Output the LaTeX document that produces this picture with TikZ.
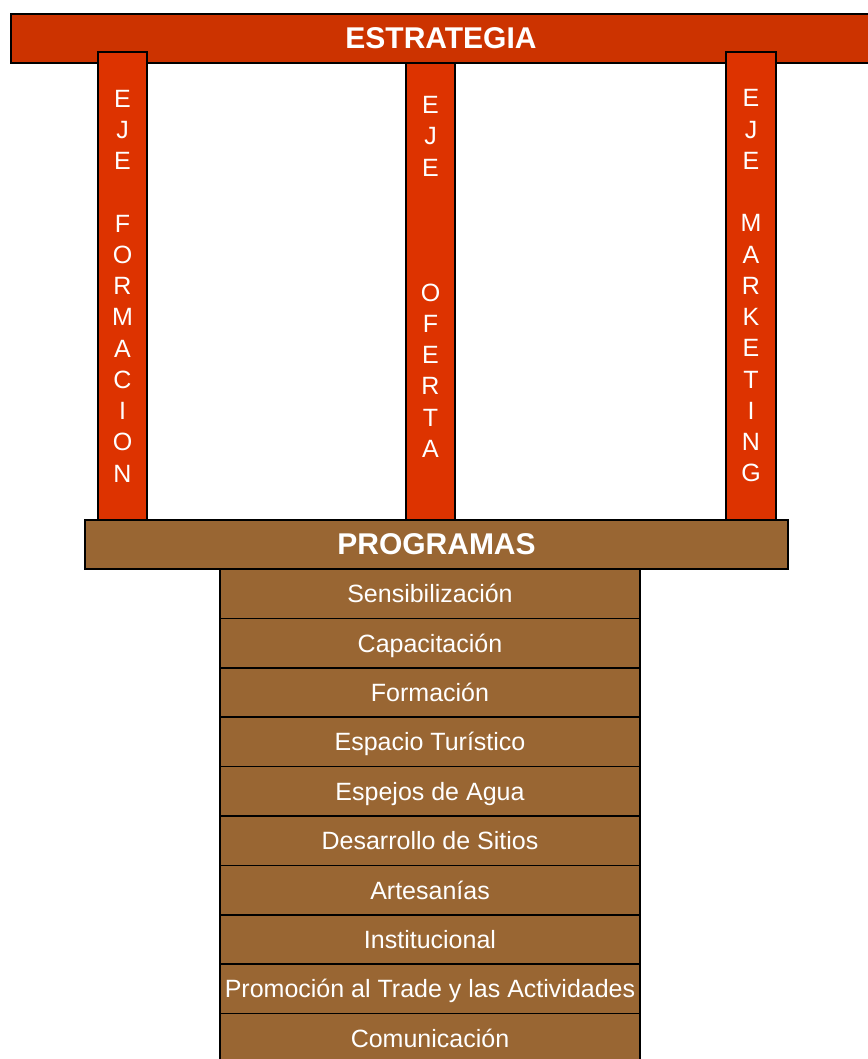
\documentclass[tikz,border=0pt]{standalone}
\usepackage{fontspec}
\setmainfont{Liberation Sans}
\usetikzlibrary{matrix,positioning}
\definecolor{estrat}{RGB}{204,51,0}
\definecolor{ejecol}{RGB}{221,51,0}
\definecolor{progcol}{RGB}{153,102,51}

\begin{document}
\begin{tikzpicture}[x=1pt,y=-1pt]
\tikzset{barra/.style={draw,line width=1.5pt,inner sep=0pt,outer sep=0pt,minimum height=49pt,text=white,font=\bfseries\fontsize{30}{36}\selectfont},
eje/.style={draw,line width=1.5pt,fill=ejecol,minimum width=49pt,inner sep=0pt,outer sep=0pt,text=white,align=center,font=\fontsize{25}{31.25}\selectfont},
fila/.style={draw,line width=1.5pt,fill=progcol,minimum width=420pt,minimum height=49.4pt,text height=18pt,text depth=0pt,inner sep=0pt,outer sep=0pt,text=white,font=\fontsize{25}{30}\selectfont}}
\useasboundingbox[fill=white] (0,0) rectangle (867,1059);
% middle axis sits under the top bar
\node[eje,minimum height=486pt] (oferta) at (430.5,277) {E\\J\\E\\[93.75pt]O\\F\\E\\R\\T\\A};
\node[barra,fill=estrat,minimum width=860pt] (estrategia) at (441,38.5) {ESTRATEGIA};
\node[eje,minimum height=468pt] (formacion) at (122.5,286) {E\\J\\E\\[31.25pt]F\\O\\R\\M\\A\\C\\I\\O\\N};
\node[eje,minimum height=468pt,minimum width=50pt] (marketing) at (751,286) {E\\J\\E\\[31.25pt]M\\A\\R\\K\\E\\T\\I\\N\\G};
\node[barra,fill=progcol,minimum width=703pt] (programas) at (436.5,544.5) {PROGRAMAS};
\matrix (m) [matrix of nodes, nodes={fila}, row sep=-1.5pt, inner sep=0pt, outer sep=0pt, anchor=north] at (430,568.25) {
Sensibilización \\
Capacitación \\
Formación \\
Espacio Turístico \\
Espejos de Agua \\
Desarrollo de Sitios \\
Artesanías \\
Institucional \\
Promoción al Trade y las Actividades \\
Comunicación \\
};
\end{tikzpicture}
\end{document}
